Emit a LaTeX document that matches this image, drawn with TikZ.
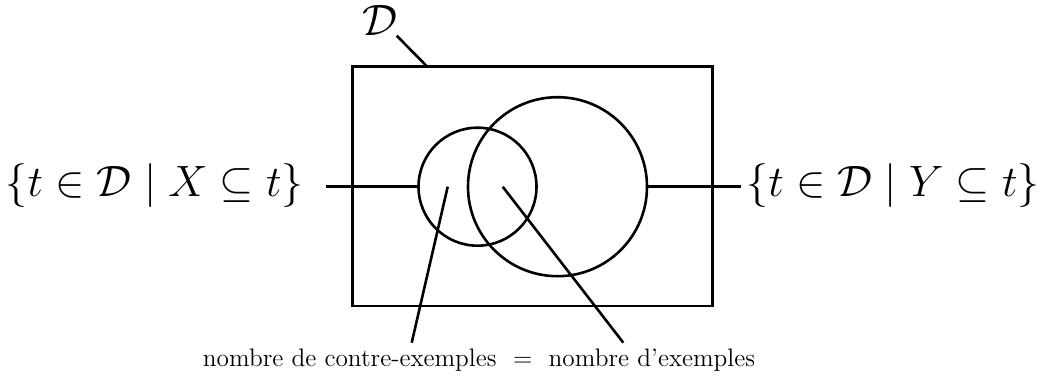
\documentclass[tikz,border=0pt]{standalone}
\usepackage{amsmath,amssymb}
\begin{document}
\begin{tikzpicture}[x=0.5pt,y=-0.5pt,
  ln/.style={line width=1.3pt},
  bigmath/.style={inner sep=0pt,font=\huge,scale=1.058},
  venn/.style={circle,draw,ln,inner sep=0pt}]
\useasboundingbox (0,0) rectangle (1045,385);
\node[draw,ln,inner sep=0pt,minimum width=180.2pt,minimum height=119.6pt] (rect) at (532.5,186.3) {};
\node[venn,minimum size=59pt] (X) at (477.5,186.7) {};
\node[venn,minimum size=89.5pt] (Y) at (557.5,186.7) {};
\node[bigmath,anchor=base east] (L) at (304,197) {$\{t\in\mathcal{D}\mid X\subseteq t\}$};
\node[bigmath,anchor=base west] (R) at (746,197) {$\{t\in\mathcal{D}\mid Y\subseteq t\}$};
\node[bigmath,anchor=base] (Dlab) at (380,36) {$\mathcal{D}$};
\node[inner sep=0pt,font=\large,scale=1.053,anchor=base] (B) at (479,366) {nombre de contre-exemples \ $=$ \ nombre d'exemples};
\coordinate (dt) at (427.3,66.7);
\coordinate (p1) at (447.7,186.7);
\coordinate (p2) at (502.7,186.7);
\coordinate (b1) at (411.7,342.7);
\coordinate (b2) at (623.3,342.7);
\draw[ln] ([xshift=11pt]L.east |- X.west) -- (X.west);
\draw[ln] (Y.east) -- ([xshift=-2.5pt]R.west |- Y.east);
\draw[ln] (396.7,35.7) -- (dt);
\draw[ln] (p1) -- (b1);
\draw[ln] (p2) -- (b2);
\end{tikzpicture}
\end{document}
